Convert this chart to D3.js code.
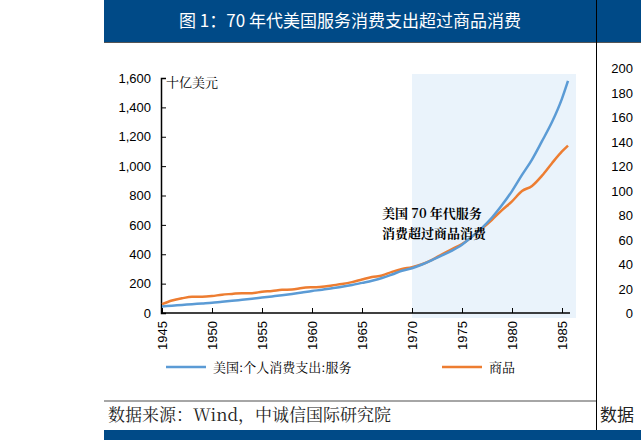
<!DOCTYPE html><html><head><meta charset="utf-8"><script src="https://cdn.jsdelivr.net/npm/d3@7"></script>
<style>body{margin:0;background:#fff}svg{display:block}</style></head><body><svg id="c" width="641" height="440"></svg>
<script>
const years=[1945,1946,1947,1948,1949,1950,1951,1952,1953,1954,1955,1956,1957,1958,1959,1960,1961,1962,1963,1964,1965,1966,1967,1968,1969,1970,1971,1972,1973,1974,1975,1976,1977,1978,1979,1980,1981,1982,1983,1984,1985,1985.6];
const services=[45,50,55,60,65,70,77,83,90,97,105,113,121,130,140,150,158,168,178,190,205,220,238,262,288,305,330,360,392,425,465,520,580,650,735,830,940,1045,1170,1300,1460,1580];
const goods=[60,85,100,110,110,115,125,130,135,135,145,150,158,160,170,175,178,188,197,210,228,245,255,280,300,312,332,362,400,435,470,520,575,635,700,760,830,865,935,1020,1100,1140];
const yTicks=[0,200,400,600,800,1000,1200,1400,1600];
const xTicks=[1945,1950,1955,1960,1965,1970,1975,1980,1985];
const rTicks=[200,180,160,140,120,100,80,60,40,20,0];
const svg=d3.select("#c");
const blue="#004a87";
svg.append("rect").attr("x",104).attr("y",0).attr("width",537).attr("height",42).attr("fill",blue);
svg.append("line").attr("x1",104).attr("x2",641).attr("y1",42.5).attr("y2",42.5).attr("stroke","#555");
svg.append("text").attr("x",350).attr("y",27).attr("text-anchor","middle").attr("fill","#fff").attr("font-family","Noto Sans CJK SC").attr("font-size",17).text("图 1：70 年代美国服务消费支出超过商品消费");
svg.append("line").attr("x1",596.5).attr("x2",596.5).attr("y1",0).attr("y2",430).attr("stroke","#000");
svg.append("rect").attr("x",104).attr("y",430).attr("width",537).attr("height",10).attr("fill",blue);
svg.append("line").attr("x1",104).attr("x2",596).attr("y1",401).attr("y2",401).attr("stroke","#888").attr("stroke-width",1.5);
svg.append("text").attr("x",108).attr("y",421).attr("font-family","Noto Serif CJK SC, Noto Sans CJK SC").attr("font-size",17).attr("fill","#222").text("数据来源：Wind，中诚信国际研究院");
svg.append("text").attr("x",600).attr("y",421).attr("font-family","Noto Sans CJK SC").attr("font-size",17).attr("fill","#222").text("数据");
const x=d3.scaleLinear().domain([1945,1985]).range([162,562]);
const y=d3.scaleLinear().domain([0,1600]).range([313,78]);
const ry=d3.scaleLinear().domain([0,200]).range([313,68]);
rTicks.forEach(t=>svg.append("text").attr("x",633).attr("y",ry(t)+5).attr("text-anchor","end").attr("font-family","Liberation Sans").attr("font-size",13).text(t));
svg.append("rect").attr("x",x(1970)).attr("y",74).attr("width",576-x(1970)).attr("height",318-74).attr("fill","#eaf3fb");
const ya=svg.append("g").attr("transform","translate(161,0)").call(d3.axisLeft(y).tickValues(yTicks).tickSize(-5).tickFormat(d3.format(",")));
ya.selectAll("text").attr("x",-10).attr("font-family","Liberation Sans").attr("font-size",13).attr("fill","#000");
const xa=svg.append("g").attr("transform","translate(0,313)").call(d3.axisBottom(x).tickValues(xTicks).tickSize(-5).tickFormat(d3.format("d")));
xa.select(".domain").attr("d","M161,0H570");
xa.selectAll("text").attr("transform","rotate(-90)").attr("x",-8).attr("y",4).attr("dy",0).attr("text-anchor","end").attr("font-family","Liberation Sans").attr("font-size",13).attr("fill","#000");
svg.selectAll(".domain").attr("stroke","#000").attr("stroke-width",1.5);
svg.append("text").attr("x",166).attr("y",87).attr("font-family","Noto Serif CJK SC, Noto Sans CJK SC").attr("font-size",13).text("十亿美元");
const line=d3.line().x((d,i)=>x(years[i])).y(d=>y(d)).curve(d3.curveMonotoneX);
svg.append("path").datum(goods).attr("d",line).attr("fill","none").attr("stroke","#ed7d31").attr("stroke-width",2.5);
svg.append("path").datum(services).attr("d",line).attr("fill","none").attr("stroke","#5b9bd5").attr("stroke-width",2.5);
svg.append("text").attr("x",382).attr("y",218).attr("font-family","Noto Serif CJK SC, Noto Sans CJK SC").attr("font-size",13).attr("font-weight","bold").text("美国 70 年代服务");
svg.append("text").attr("x",382).attr("y",238).attr("font-family","Noto Serif CJK SC, Noto Sans CJK SC").attr("font-size",13).attr("font-weight","bold").text("消费超过商品消费");
const lg=[{t:"美国:个人消费支出:服务",c:"#5b9bd5",x:166},{t:"商品",c:"#ed7d31",x:442}];
lg.forEach(l=>{svg.append("line").attr("x1",l.x).attr("x2",l.x+40).attr("y1",367).attr("y2",367).attr("stroke",l.c).attr("stroke-width",2.5);
svg.append("text").attr("x",l.x+47).attr("y",372).attr("font-family","Noto Serif CJK SC, Noto Sans CJK SC").attr("font-size",13).text(l.t);});
</script></body></html>
